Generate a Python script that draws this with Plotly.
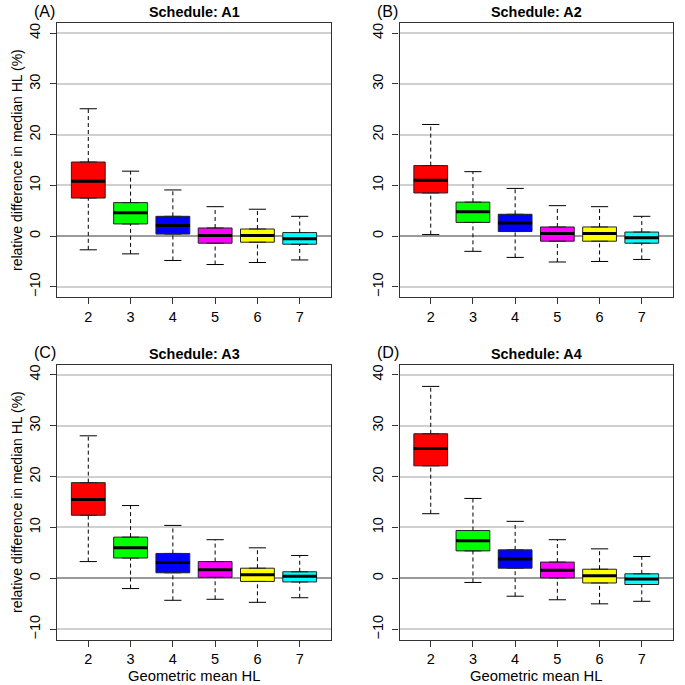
import plotly.graph_objects as go

categories = [2, 3, 4, 5, 6, 7]
colors = ["#FF0000", "#00FF00", "#0000FF", "#FF00FF", "#FFFF00", "#00FFFF"]
panel_titles = ["Schedule: A1", "Schedule: A2", "Schedule: A3", "Schedule: A4"]
panel_labels = ["(A)", "(B)", "(C)", "(D)"]

# per panel: whisker low, Q1, median, Q3, whisker high
a1_low = [-2.7, -3.5, -4.8, -5.6, -5.2, -4.7]
a1_q1 = [7.5, 2.4, 0.4, -1.4, -1.2, -1.6]
a1_med = [10.8, 4.6, 2.1, 0.1, 0.1, -0.5]
a1_q3 = [14.6, 6.6, 3.9, 1.6, 1.4, 0.7]
a1_high = [25.1, 12.8, 9.1, 5.8, 5.3, 3.9]

a2_low = [0.3, -3.0, -4.2, -5.1, -5.0, -4.6]
a2_q1 = [8.5, 2.7, 0.9, -1.0, -1.0, -1.4]
a2_med = [11.0, 4.8, 2.6, 0.5, 0.5, -0.3]
a2_q3 = [13.9, 6.7, 4.3, 1.8, 1.8, 0.8]
a2_high = [22.0, 12.7, 9.4, 6.0, 5.8, 3.9]

a3_low = [3.3, -2.0, -4.3, -4.1, -4.7, -3.8]
a3_q1 = [12.4, 4.0, 1.1, 0.2, -0.6, -0.7]
a3_med = [15.5, 6.0, 3.1, 1.7, 0.7, 0.4]
a3_q3 = [18.8, 8.1, 4.9, 3.3, 2.0, 1.3]
a3_high = [28.0, 14.3, 10.4, 7.6, 6.0, 4.5]

a4_low = [12.7, -0.8, -3.5, -4.2, -5.0, -4.5]
a4_q1 = [22.1, 5.4, 2.0, 0.1, -0.9, -1.2]
a4_med = [25.5, 7.4, 3.8, 1.6, 0.5, -0.1]
a4_q3 = [28.4, 9.4, 5.6, 3.2, 1.8, 0.9]
a4_high = [37.7, 15.7, 11.2, 7.6, 5.8, 4.3]

panels = [
    (a1_low, a1_q1, a1_med, a1_q3, a1_high),
    (a2_low, a2_q1, a2_med, a2_q3, a2_high),
    (a3_low, a3_q1, a3_med, a3_q3, a3_high),
    (a4_low, a4_q1, a4_med, a4_q3, a4_high),
]

W = H = 685
# plot frames in pixels (left, right, top, bottom)
frames = [(57, 331, 23, 297), (399.5, 673, 23, 297),
          (57, 331, 364.5, 639.5), (399.5, 673, 364.5, 639.5)]


def px(v):
    return v / W


def py(v):
    return 1 - v / H


fig = go.Figure()
FONT = "Liberation Sans, Arial, Helvetica, sans-serif"

for p, (low, q1, med, q3, high) in enumerate(panels):
    sfx = "" if p == 0 else str(p + 1)
    xa, ya = "x" + sfx, "y" + sfx
    # dashed whiskers
    wx, wy = [], []
    for i, c in enumerate(categories):
        wx += [c, c, None, c, c, None]
        wy += [q3[i], high[i], None, low[i], q1[i], None]
    fig.add_trace(go.Scatter(x=wx, y=wy, mode="lines", xaxis=xa, yaxis=ya,
                             line=dict(color="black", width=1, dash="4px,3px"),
                             hoverinfo="skip", showlegend=False))
    # staples
    fig.add_trace(go.Scatter(x=categories + categories, y=low + high, mode="markers",
                             xaxis=xa, yaxis=ya, showlegend=False, hoverinfo="skip",
                             marker=dict(symbol="line-ew", size=12.3,
                                         line=dict(color="black", width=1))))
    # boxes
    for i, c in enumerate(categories):
        fig.add_trace(go.Box(x=[c], q1=[q1[i]], median=[med[i]], q3=[q3[i]],
                             lowerfence=[q1[i]], upperfence=[q3[i]],
                             width=0.8, fillcolor=colors[i],
                             line=dict(color="#222222", width=1),
                             xaxis=xa, yaxis=ya, showlegend=False,
                             boxpoints=False))
    # thick medians
    fig.add_trace(go.Scatter(x=categories, y=med, mode="markers", xaxis=xa, yaxis=ya,
                             showlegend=False, hoverinfo="skip",
                             marker=dict(symbol="line-ew", size=24.2,
                                         line=dict(color="black", width=3))))

    l, r, t, b = frames[p]
    axis_common = dict(showline=True, linecolor="#333333", linewidth=1.3, mirror=True,
                       ticks="outside", ticklen=6, tickcolor="#333333",
                       tickfont=dict(size=14.5, color="black", family=FONT))
    fig.layout["xaxis" + sfx] = dict(
        domain=[px(l), px(r)], anchor=ya, range=[1.26, 7.74],
        tickvals=categories, ticktext=[str(c) for c in categories],
        showgrid=False, zeroline=False, **axis_common)
    fig.layout["yaxis" + sfx] = dict(
        domain=[py(b), py(t)], anchor=xa, range=[-12, 42],
        tickvals=[-10, 0, 10, 20, 30, 40], tickangle=-90, ticklabelstandoff=4,
        showgrid=True, gridcolor="#D0D0D0", gridwidth=1.5,
        zeroline=True, zerolinecolor="#9A9A9A", zerolinewidth=1.8,
        **axis_common)

    cx = (l + r) / 2
    fig.add_annotation(text="<b>" + panel_titles[p] + "</b>", x=px(cx), y=py(t - 11),
                       xref="paper", yref="paper", showarrow=False,
                       font=dict(size=14.4, color="black", family=FONT),
                       xanchor="center", yanchor="middle")
    fig.add_annotation(text=panel_labels[p], x=px(l - 25), y=py(t - 12),
                       xref="paper", yref="paper", showarrow=False,
                       font=dict(size=16, color="black", family=FONT),
                       xanchor="left", yanchor="middle")
    if p in (0, 2):
        fig.add_annotation(text="relative difference in median HL (%)", x=px(17),
                           y=py((t + b) / 2), xref="paper", yref="paper",
                           showarrow=False, textangle=-90,
                           font=dict(size=14, color="black", family=FONT),
                           xanchor="center", yanchor="middle")
    if p in (2, 3):
        fig.add_annotation(text="Geometric mean HL", x=px(cx), y=py(676),
                           xref="paper", yref="paper", showarrow=False,
                           font=dict(size=14.8, color="black", family=FONT),
                           xanchor="center", yanchor="middle")

fig.update_layout(width=W, height=H, margin=dict(l=0, r=0, t=0, b=0),
                  paper_bgcolor="white", plot_bgcolor="white",
                  showlegend=False, boxmode="overlay")
fig.write_html("out.html", config={"displayModeBar": False},
               post_script="document.body.style.margin='0px';"
                           "document.body.style.overflow='hidden';")
